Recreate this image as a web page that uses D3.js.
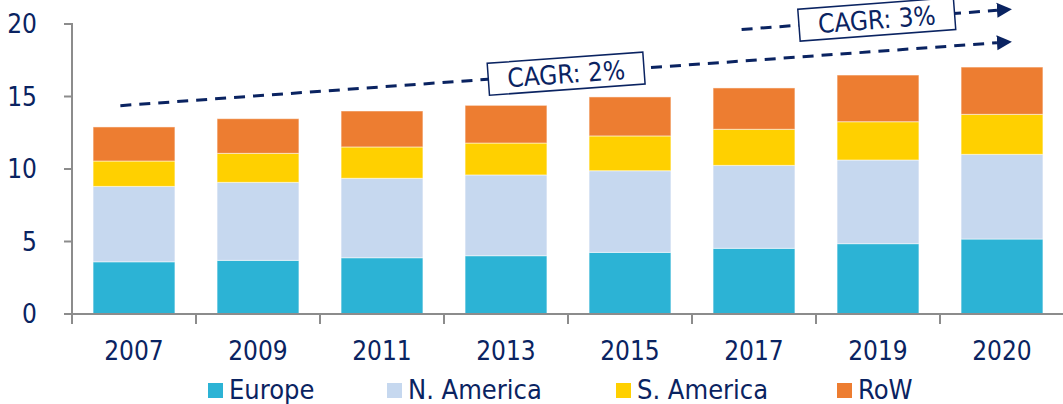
<!DOCTYPE html>
<html>
<head>
<meta charset="utf-8">
<script src="https://cdn.jsdelivr.net/npm/d3@7"></script>
<style>
  html, body { margin: 0; padding: 0; background: #fff; }
  svg { display: block; }
  text { font-family: "DejaVu Sans Condensed", "DejaVu Sans", sans-serif; font-stretch: condensed; fill: #0a2361; }
</style>
</head>
<body>
<svg id="chart" width="1063" height="404"></svg>
<script>
// ---- data ----
const years = ["2007", "2009", "2011", "2013", "2015", "2017", "2019", "2020"];
const seriesNames = ["Europe", "N. America", "S. America", "RoW"];
const europe    = [3.60, 3.70, 3.88, 4.02, 4.25, 4.53, 4.85, 5.17];
const nAmerica  = [5.20, 5.38, 5.48, 5.57, 5.63, 5.72, 5.77, 5.84];
const sAmerica  = [1.75, 2.00, 2.16, 2.20, 2.40, 2.49, 2.64, 2.76];
const row       = [2.35, 2.39, 2.48, 2.60, 2.69, 2.85, 3.22, 3.26];
const yTicks = [0, 5, 10, 15, 20];
const colors = ["#2cb3d5", "#c6d8ef", "#ffd000", "#ed7d31"];
// CAGR annotations: start/end as [category, fraction within band, value]
const cagrLabels = ["CAGR: 2%", "CAGR: 3%"];
const cagrStart = [["2007", 0.39, 14.37], ["2017", 0.40, 19.62]];
const cagrEnd   = [["2020", 0.58, 18.78], ["2020", 0.58, 21.02]];

// ---- layout ----
const svg = d3.select("#chart");
const plotLeft = 72, plotRight = 1064, plotTop = 24, plotBottom = 314;
const axisColor = "#8c8c8c";
const navy = "#0a2361";

const x = d3.scaleBand().domain(years).range([plotLeft, plotRight]).paddingInner(0.34).paddingOuter(0.17);
const y = d3.scaleLinear().domain([0, 20]).range([plotBottom, plotTop]);

const table = years.map((yr, i) => ({ year: yr, Europe: europe[i], "N. America": nAmerica[i], "S. America": sAmerica[i], RoW: row[i] }));
const stacked = d3.stack().keys(seriesNames)(table);

// bars
svg.append("g").selectAll("g").data(stacked).join("g")
  .attr("fill", (d, i) => colors[i])
  .selectAll("rect").data(d => d).join("rect")
  .attr("x", d => x(d.data.year))
  .attr("width", x.bandwidth())
  .attr("y", d => y(d[1]))
  .attr("height", d => y(d[0]) - y(d[1]))
  .attr("stroke", "#ffffff").attr("stroke-opacity", 0.5).attr("stroke-width", 1);

// y axis
const ya = svg.append("g");
ya.append("line").attr("x1", plotLeft).attr("x2", plotLeft).attr("y1", y(20) - 1).attr("y2", plotBottom)
  .attr("stroke", axisColor).attr("stroke-width", 2);
ya.selectAll("line.t").data(yTicks).join("line").attr("class", "t")
  .attr("x1", plotLeft - 8).attr("x2", plotLeft).attr("y1", d => y(d)).attr("y2", d => y(d))
  .attr("stroke", axisColor).attr("stroke-width", 2);
ya.selectAll("text").data(yTicks).join("text")
  .attr("x", 37).attr("y", d => y(d)).attr("dy", "0.36em")
  .attr("text-anchor", "end").attr("font-size", 26).text(d => d);

// x axis
const xa = svg.append("g");
xa.append("line").attr("x1", plotLeft - 8).attr("x2", 1063).attr("y1", plotBottom).attr("y2", plotBottom)
  .attr("stroke", axisColor).attr("stroke-width", 2);
const bounds = d3.range(years.length + 1).map(i => x.range()[0] + i * x.step());
xa.selectAll("line.t").data(bounds).join("line").attr("class", "t")
  .attr("x1", d => d).attr("x2", d => d).attr("y1", plotBottom).attr("y2", plotBottom + 10)
  .attr("stroke", axisColor).attr("stroke-width", 2);
xa.selectAll("text").data(years).join("text")
  .attr("x", d => x(d) + x.bandwidth() / 2).attr("y", 360)
  .attr("text-anchor", "middle").attr("font-size", 26).text(d => d);

// CAGR arrows
const defs = svg.append("defs");
defs.append("marker").attr("id", "arrow").attr("viewBox", "0 0 10 10")
  .attr("refX", 0).attr("refY", 5).attr("markerWidth", 5).attr("markerHeight", 5.4)
  .attr("markerUnits", "strokeWidth").attr("orient", "auto")
  .append("path").attr("d", "M0,0 L10,5 L0,10 Z").attr("fill", navy);

const pos = p => [x(p[0]) - x.step() * 0.17 + p[1] * x.step(), y(p[2])];
cagrLabels.forEach((lab, i) => {
  const [x1, y1] = pos(cagrStart[i]);
  const [x2, y2] = pos(cagrEnd[i]);
  const ang = Math.atan2(y2 - y1, x2 - x1);
  const headLen = 15;
  const ex = x2 - headLen * Math.cos(ang), ey = y2 - headLen * Math.sin(ang);
  svg.append("line").attr("x1", x1).attr("y1", y1).attr("x2", ex).attr("y2", ey)
    .attr("stroke", navy).attr("stroke-width", 3).attr("stroke-dasharray", "11,8")
    .attr("marker-end", "url(#arrow)");
  const cx = (x1 + x2) / 2, cy = (y1 + y2) / 2;
  const g = svg.append("g").attr("transform", `translate(${cx},${cy}) rotate(${ang * 180 / Math.PI})`);
  g.append("rect").attr("x", -78).attr("y", -16).attr("width", 156).attr("height", 32)
    .attr("fill", "#fff").attr("stroke", navy).attr("stroke-width", 1.5);
  g.append("text").attr("x", 0).attr("y", 0).attr("dy", "0.36em")
    .attr("text-anchor", "middle").attr("font-size", 26).text(lab);
});

// legend
const legendX = [208, 387, 616, 837];
const lg = svg.append("g");
seriesNames.forEach((name, i) => {
  lg.append("rect").attr("x", legendX[i]).attr("y", 383).attr("width", 15).attr("height", 15).attr("fill", colors[i]);
  lg.append("text").attr("x", legendX[i] + 21).attr("y", 399).attr("font-size", 27).text(name);
});
</script>
</body>
</html>
